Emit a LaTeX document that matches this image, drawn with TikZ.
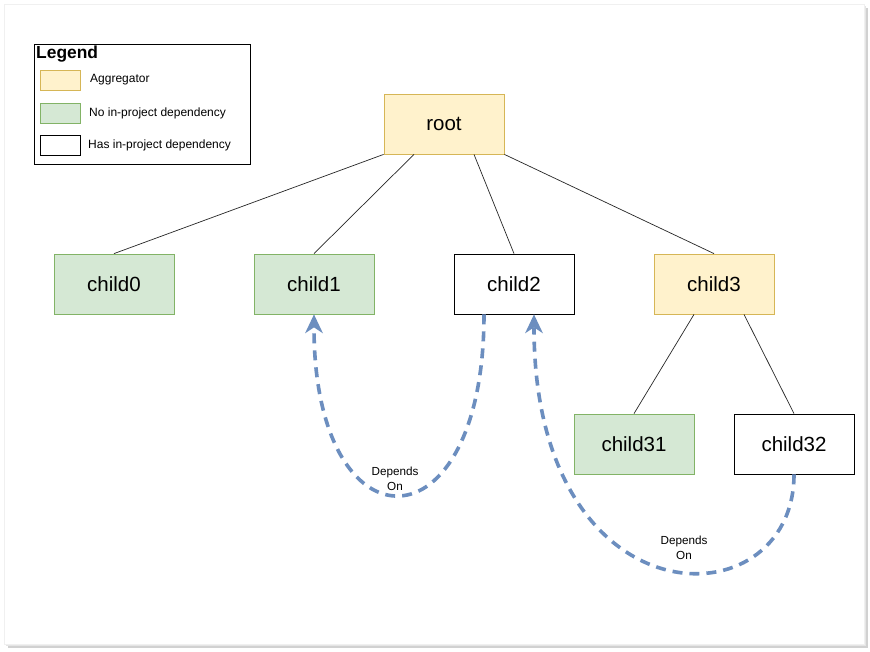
\documentclass[tikz,border=0pt]{standalone}
\usepackage{fontspec}
\setmainfont{Liberation Sans}
\usetikzlibrary{arrows.meta,calc}
\definecolor{aggfill}{HTML}{FFF2CC}
\definecolor{aggline}{HTML}{D6B656}
\definecolor{leaffill}{HTML}{D5E8D4}
\definecolor{leafline}{HTML}{82B366}
\definecolor{depblue}{HTML}{6C8EBF}
\tikzset{
  module/.style={draw, line width=0.8pt, minimum width=120pt, minimum height=60pt,
    inner sep=0pt, font=\fontsize{20.5}{24}\selectfont},
  aggregator/.style={module, fill=aggfill, draw=aggline},
  leaf/.style={module, fill=leaffill, draw=leafline},
  linked/.style={module, fill=white, draw=black},
  swatch/.style={draw, line width=0.8pt, minimum width=40pt, minimum height=20pt, inner sep=0pt},
  keytext/.style={anchor=west, inner sep=0pt, font=\fontsize{12}{14}\selectfont},
  tree/.style={draw=black!85, line width=0.7pt},
  dep/.style={draw=depblue, line width=3.6pt, dash pattern=on 10pt off 7pt,
    -{Stealth[length=19pt,width=18pt,inset=6pt,line width=0pt]}},
  deplabel/.style={align=center, inner sep=0pt, font=\fontsize{11.7}{15}\selectfont}
}
\begin{document}
\begin{tikzpicture}[x=1pt,y=-1pt]
  \useasboundingbox (0,0) rectangle (870,651);
  \fill[white] (0,0) rectangle (870,651);
  % page with drop shadow
  \fill[black!18] (8,8) rectangle (868,648);
  \fill[black!10] (6,6) rectangle (866,646);
  \filldraw[fill=white, draw=black!6, line width=0.6pt] (4,4) rectangle (864,644);

  % legend
  \node[draw, line width=0.8pt, minimum width=216pt, minimum height=120pt, inner sep=0pt] (legend) at (142,104) {};
  \node[anchor=west, inner sep=0pt, font=\fontsize{17.4}{20}\bfseries] (legtitle) at (36,54) {Legend};
  \node[swatch, fill=aggfill, draw=aggline] (keyagg) at (60,80) {};
  \node[swatch, fill=leaffill, draw=leafline] (keyleaf) at (60,113) {};
  \node[swatch, fill=white, draw=black] (keylinked) at (60,145) {};
  \node[keytext] (txtagg) at (90,80) {Aggregator};
  \node[keytext] (txtleaf) at (89,113) {No in-project dependency};
  \node[keytext] (txtlinked) at (88,145) {Has in-project dependency};

  % module tree
  \node[aggregator] (root) at (444,124) {root};
  \node[leaf] (child0) at (114,284) {child0};
  \node[leaf] (child1) at (314,284) {child1};
  \node[linked] (child2) at (514,284) {child2};
  \node[aggregator] (child3) at (714,284) {child3};
  \node[leaf] (child31) at (634,444) {child31};
  \node[linked] (child32) at (794,444) {child32};

  \draw[tree] (root.south west) -- (child0.north);
  \draw[tree] ([xshift=-30pt]root.south) -- (child1.north);
  \draw[tree] ([xshift=30pt]root.south) -- (child2.north);
  \draw[tree] (root.south east) -- (child3.north);
  \draw[tree] ([xshift=-20pt]child3.south) -- (child31.north);
  \draw[tree] ([xshift=30pt]child3.south) -- (child32.north);

  % dependency arrows
  \draw[dep] ([xshift=-30pt]child2.south) .. controls +(0,240) and +(0,240) .. (child1.south);
  \draw[dep] (child32.south) .. controls +(0,150) and +(0,312) .. ([xshift=20pt]child2.south);
  \node[deplabel] (dep1) at (395,479) {Depends\\On};
  \node[deplabel] (dep2) at (684,548) {Depends\\On};
\end{tikzpicture}
\end{document}
